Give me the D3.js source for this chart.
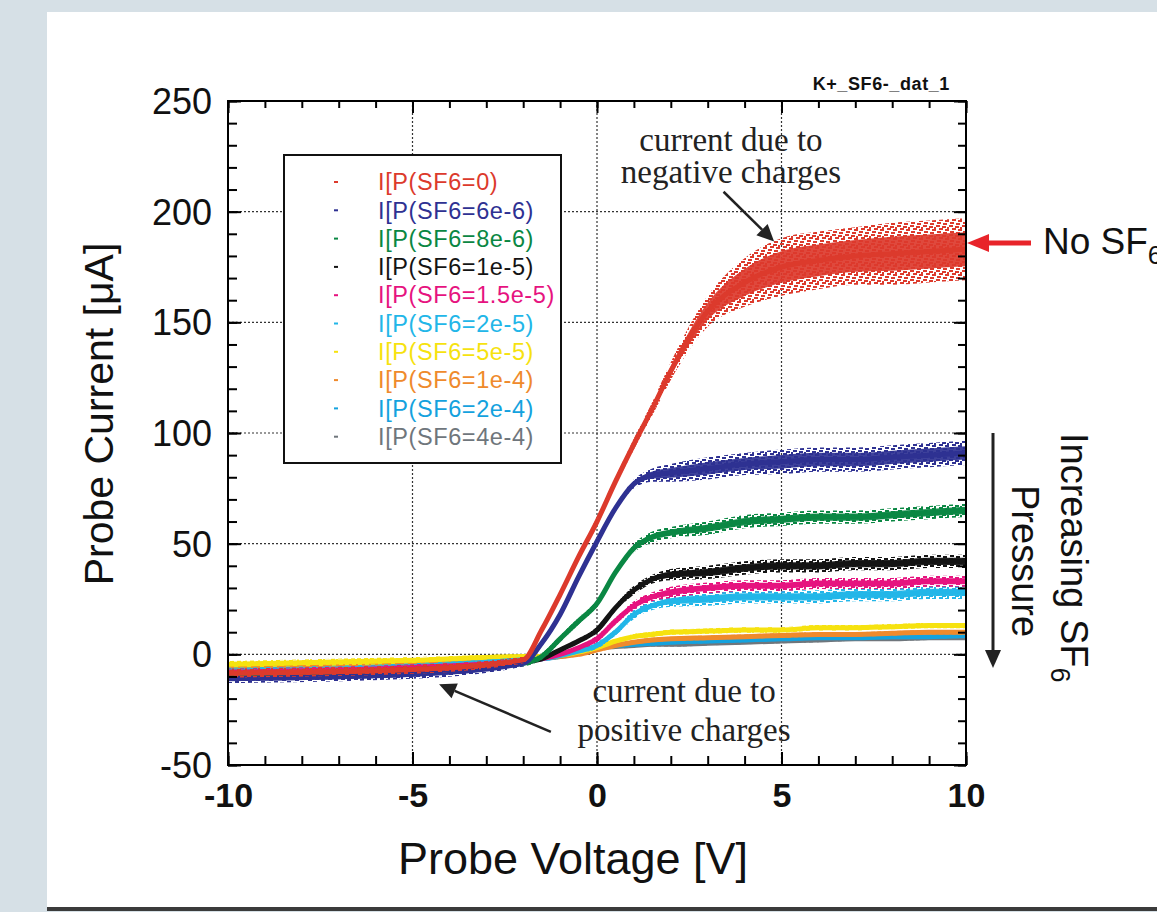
<!DOCTYPE html>
<html>
<head>
<meta charset="utf-8">
<script src="https://cdn.jsdelivr.net/npm/d3@7"></script>
<style>
  html, body { margin: 0; padding: 0; background: #d6e0e6; }
  svg { display: block; }
</style>
</head>
<body>
<svg id="chart" width="1157" height="912"></svg>
<script>
// ---------------- DATA ----------------
const voltage = [-10, -5, -2, -1.5, -1, -0.5, 0, 0.5, 1, 1.5, 2, 3, 4, 5, 6, 7, 8, 9, 10];

const seriesNames = [
  "I[P(SF6=0)", "I[P(SF6=6e-6)", "I[P(SF6=8e-6)", "I[P(SF6=1e-5)", "I[P(SF6=1.5e-5)",
  "I[P(SF6=2e-5)", "I[P(SF6=5e-5)", "I[P(SF6=1e-4)", "I[P(SF6=2e-4)", "I[P(SF6=4e-4)"
];

const currentSF6_0      = [-8.5, -6.8, -2.5, 11, 27, 44, 60, 78, 95, 111, 128, 155, 168, 175, 178, 180, 181, 182, 183];
const currentSF6_6e6    = [-11, -9, -4, 5, 18, 35, 51, 66, 77, 81, 82, 84, 86, 87, 88, 88, 89, 90, 91];
const currentSF6_8e6    = [-10, -8, -4, -1, 7, 15, 23, 37, 48, 53, 55, 57, 60, 61, 62, 62, 63, 64, 65];
const currentSF6_1e5    = [-9, -7, -3.5, -2, 2, 6, 11, 21, 29, 34, 36, 37, 39, 40, 40, 41, 41, 42, 42];
const currentSF6_1_5e5  = [-8, -6, -3, -2, 0, 3, 7, 15, 22, 26, 28, 30, 31, 31, 32, 32, 32, 33, 33];
const currentSF6_2e5    = [-7.5, -5.5, -2.5, -2, -0.5, 1.5, 4, 10, 18, 22, 24, 25, 26, 26, 26, 27, 27, 28, 28];
const currentSF6_5e5    = [-4.5, -2.7, -1, -1, -0.5, 1, 3, 6, 8, 9, 10, 10.5, 11, 11, 12, 12, 12.5, 13, 13];
const currentSF6_1e4    = [-5.5, -4, -1.5, -1.5, -1, 0, 2, 4, 5.5, 6.5, 7, 7.5, 8, 8.5, 9, 9, 9.5, 10, 10];
const currentSF6_2e4    = [-7, -5, -2.5, -2, -1, 0.5, 2.5, 4, 4.5, 5, 5.5, 6, 6.5, 7, 7.5, 7.5, 8, 8, 8.5];
const currentSF6_4e4    = [-6.5, -4, -2, -1.5, -0.5, 1.5, 3, 3.5, 4, 4.5, 4.5, 5, 5.5, 6, 6.5, 7, 7, 7.5, 7.5];

// scatter (noise) half-width of each measured band, in µA
const spreadSF6_0      = [2, 2, 1.5, 1.5, 1.5, 1.5, 2, 2, 2.5, 3, 4, 7, 11, 13, 13, 13, 14, 14, 14];
const spreadSF6_6e6    = [2, 2, 1.5, 1.5, 1.5, 1.5, 1.5, 1.5, 2, 3, 4, 5, 5, 5.5, 5.5, 5.5, 5.5, 5.5, 5.5];
const spreadSF6_8e6    = [2, 2, 1.5, 1.5, 1.5, 1.5, 1.5, 1.5, 2, 2.5, 2.5, 3, 3, 3, 3, 3, 3, 3, 3];
const spreadSF6_1e5    = [1.5, 1.5, 1, 1, 1, 1, 1.5, 1.5, 2, 2, 2.5, 3, 3, 3, 3, 3, 3, 3, 3];
const spreadSF6_1_5e5  = [1.5, 1.5, 1, 1, 1, 1, 1.5, 1.5, 2, 2, 2.5, 2.5, 2.5, 2.5, 2.5, 2.5, 2.5, 2.5, 2.5];
const spreadSF6_2e5    = [1.5, 1.5, 1, 1, 1, 1, 1.5, 1.5, 2, 2, 2.5, 3, 3, 3, 3, 3, 3, 3, 3];
const spreadSF6_5e5    = [1.5, 1.5, 1, 1, 1, 1, 1, 1, 1.2, 1.2, 1.2, 1.2, 1.2, 1.2, 1.2, 1.2, 1.2, 1.2, 1.2];
const spreadSF6_1e4    = [1.2, 1.2, 1, 1, 1, 1, 1, 1, 1, 1, 1, 1, 1, 1, 1, 1, 1, 1, 1];
const spreadSF6_2e4    = [1.2, 1.2, 1, 1, 1, 1, 1, 1, 1, 1, 1, 1, 1, 1, 1, 1, 1, 1, 1];
const spreadSF6_4e4    = [1.2, 1.2, 1, 1, 1, 1, 1, 1, 1, 1, 1, 1, 1, 1, 1, 1, 1, 1, 1];

const xTickValues = [-10, -5, 0, 5, 10];
const xTickLabels = ["-10", "-5", "0", "5", "10"];
const yTickValues = [-50, 0, 50, 100, 150, 200, 250];
const yTickLabels = ["-50", "0", "50", "100", "150", "200", "250"];

const seriesColors = ["#dc3a2c", "#2e3192", "#0a8743", "#141414", "#e6137f",
                      "#22b6e8", "#f6e20f", "#ef8a2c", "#14a2de", "#6f767c"];

const allCurrents = [currentSF6_0, currentSF6_6e6, currentSF6_8e6, currentSF6_1e5, currentSF6_1_5e5,
                     currentSF6_2e5, currentSF6_5e5, currentSF6_1e4, currentSF6_2e4, currentSF6_4e4];
const allSpreads  = [spreadSF6_0, spreadSF6_6e6, spreadSF6_8e6, spreadSF6_1e5, spreadSF6_1_5e5,
                     spreadSF6_2e5, spreadSF6_5e5, spreadSF6_1e4, spreadSF6_2e4, spreadSF6_4e4];

const series = seriesNames.map((name, i) => ({
  name, color: seriesColors[i],
  points: voltage.map((v, j) => ({ v, c: allCurrents[i][j], s: allSpreads[i][j] }))
}));

// ---------------- LAYOUT ----------------
const svg = d3.select("#chart");
const W = 1157, H = 912;
const plot = { left: 228, right: 966, top: 101, bottom: 765 };

const x = d3.scaleLinear().domain([-10, 10]).range([plot.left, plot.right]);
const y = d3.scaleLinear().domain([-50, 250]).range([plot.bottom, plot.top]);

// background panel
svg.append("rect").attr("x", 0).attr("y", 0).attr("width", W).attr("height", H).attr("fill", "#d6e0e6");
svg.append("rect").attr("x", 47).attr("y", 12).attr("width", W - 47).attr("height", 896).attr("fill", "#ffffff");
svg.append("rect").attr("x", 47).attr("y", 907).attr("width", W - 47).attr("height", 4).attr("fill", "#3b3b3b");

const defs = svg.append("defs");
// speckle patterns to mimic scattered data points
series.forEach((s, i) => {
  const p = defs.append("pattern").attr("id", "sp" + i).attr("patternUnits", "userSpaceOnUse")
    .attr("width", 13).attr("height", 9);
  [[0, 0], [6, 1], [3, 3], [9, 4], [1, 6], [7, 7], [11, 2]].forEach(([px, py]) => {
    p.append("rect").attr("x", px).attr("y", py).attr("width", 4).attr("height", 2).attr("fill", s.color);
  });
});

// grid lines
const grid = svg.append("g");
[-5, 0, 5].forEach(v => grid.append("line")
  .attr("x1", x(v)).attr("x2", x(v)).attr("y1", plot.top).attr("y2", plot.bottom)
  .attr("stroke", "#333").attr("stroke-width", 1.2).attr("stroke-dasharray", "2,2"));
[0, 50, 100, 150, 200].forEach(v => grid.append("line")
  .attr("x1", plot.left).attr("x2", plot.right).attr("y1", y(v)).attr("y2", y(v))
  .attr("stroke", "#333").attr("stroke-width", 1.2).attr("stroke-dasharray", "2,2"));

// data
const clipId = "clipPlot";
defs.append("clipPath").attr("id", clipId).append("rect")
  .attr("x", plot.left).attr("y", plot.top).attr("width", plot.right - plot.left).attr("height", plot.bottom - plot.top);
const dataG = svg.append("g").attr("clip-path", `url(#${clipId})`);

const curve = d3.curveMonotoneX;
const areaOuter = d3.area().x(d => x(d.v)).y0(d => y(d.c - d.s)).y1(d => y(d.c + d.s)).curve(curve);
const areaInner = d3.area().x(d => x(d.v)).y0(d => y(d.c - d.s * 0.55)).y1(d => y(d.c + d.s * 0.55)).curve(curve);
const line = d3.line().x(d => x(d.v)).y(d => y(d.c)).curve(curve);

const drawOrder = series.map((s, i) => i).reverse();
drawOrder.forEach(i => {
  const s = series[i];
  dataG.append("path").datum(s.points).attr("d", areaOuter).attr("fill", `url(#sp${i})`);
  dataG.append("path").datum(s.points).attr("d", areaInner).attr("fill", s.color).attr("fill-opacity", 0.92);
  dataG.append("path").datum(s.points).attr("d", line).attr("fill", "none")
    .attr("stroke", s.color).attr("stroke-width", 5).attr("stroke-linejoin", "round");
});

// axes with inward ticks
const axG = svg.append("g");
function styleAxis(g) {
  g.select(".domain").remove();
  g.selectAll(".tick line").attr("stroke", "#000").attr("stroke-width", 2);
}
const minorX = d3.range(-10, 10.01, 1);
const majorX = xTickValues;
const minorY = d3.range(-50, 250.01, 10);
const majorY = yTickValues;

axG.append("g").attr("transform", `translate(0,${plot.bottom})`)
  .call(d3.axisBottom(x).tickValues(minorX).tickSize(-9).tickFormat("")).call(styleAxis);
axG.append("g").attr("transform", `translate(0,${plot.bottom})`)
  .call(d3.axisBottom(x).tickValues(majorX).tickSize(-13).tickPadding(30)
    .tickFormat((d, i) => xTickLabels[i])).call(styleAxis)
  .call(g => g.selectAll(".tick text").attr("font-family", "Liberation Sans, Arial, sans-serif")
    .attr("font-size", 34).attr("font-weight", "bold").attr("fill", "#111").attr("y", 0).attr("dy", 0)
    .attr("transform", "translate(0,42)"));

axG.append("g").attr("transform", `translate(0,${plot.top})`)
  .call(d3.axisTop(x).tickValues(minorX).tickSize(-7).tickFormat("")).call(styleAxis);
axG.append("g").attr("transform", `translate(0,${plot.top})`)
  .call(d3.axisTop(x).tickValues(majorX).tickSize(-12).tickFormat("")).call(styleAxis);

axG.append("g").attr("transform", `translate(${plot.left},0)`)
  .call(d3.axisLeft(y).tickValues(minorY).tickSize(-9).tickFormat("")).call(styleAxis);
axG.append("g").attr("transform", `translate(${plot.left},0)`)
  .call(d3.axisLeft(y).tickValues(majorY).tickSize(-13).tickPadding(30)
    .tickFormat((d, i) => yTickLabels[i])).call(styleAxis)
  .call(g => g.selectAll(".tick text").attr("font-family", "Liberation Sans, Arial, sans-serif")
    .attr("font-size", 36).attr("fill", "#111").attr("x", -16).attr("dy", "0.35em"));

axG.append("g").attr("transform", `translate(${plot.right},0)`)
  .call(d3.axisRight(y).tickValues(minorY).tickSize(-8).tickFormat("")).call(styleAxis);
axG.append("g").attr("transform", `translate(${plot.right},0)`)
  .call(d3.axisRight(y).tickValues(majorY).tickSize(-12).tickFormat("")).call(styleAxis);

// frame
svg.append("rect").attr("x", plot.left).attr("y", plot.top)
  .attr("width", plot.right - plot.left).attr("height", plot.bottom - plot.top)
  .attr("fill", "none").attr("stroke", "#000").attr("stroke-width", 2);

// axis titles
svg.append("text").attr("x", 573).attr("y", 874)
  .attr("text-anchor", "middle").attr("font-family", "Liberation Sans, Arial, sans-serif")
  .attr("font-size", 45).attr("fill", "#111").text("Probe Voltage [V]");
svg.append("text").attr("transform", `translate(113,414) rotate(-90)`)
  .attr("text-anchor", "middle").attr("font-family", "Liberation Sans, Arial, sans-serif")
  .attr("font-size", 41).attr("fill", "#111").text("Probe Current [μA]");

// small title top right
svg.append("text").attr("x", 950).attr("y", 90).attr("text-anchor", "end")
  .attr("font-family", "Liberation Sans, Arial, sans-serif").attr("font-weight", "bold")
  .attr("font-size", 18).attr("letter-spacing", 0.6).attr("fill", "#111").text("K+_SF6-_dat_1");

// legend
const leg = svg.append("g");
leg.append("rect").attr("x", 284).attr("y", 155).attr("width", 277).attr("height", 308)
  .attr("fill", "#fff").attr("stroke", "#111").attr("stroke-width", 2);
series.forEach((s, i) => {
  const cy = 182 + i * 28.3;
  leg.append("rect").attr("x", 334).attr("y", cy - 1).attr("width", 4).attr("height", 2).attr("fill", s.color);
  leg.append("text").attr("x", 378).attr("y", cy).attr("dy", "0.35em")
    .attr("font-family", "Liberation Sans, Arial, sans-serif").attr("font-size", 23.5)
    .attr("letter-spacing", 0.6).attr("fill", s.color).text(s.name);
});

// annotations inside plot (positioned in data coordinates)
const serif = "Liberation Serif, Times New Roman, serif";
function arrowHead(g, x1, y1, x2, y2, len, halfW, color) {
  const a = Math.atan2(y2 - y1, x2 - x1);
  const bx = x2 - len * Math.cos(a), by = y2 - len * Math.sin(a);
  const px = -Math.sin(a) * halfW, py = Math.cos(a) * halfW;
  g.append("path").attr("d", `M${x2},${y2}L${bx + px},${by + py}L${bx - px},${by - py}Z`).attr("fill", color);
  return [bx, by];
}
function arrow(x1, y1, x2, y2, color, width, len, halfW) {
  const g = svg.append("g");
  const [bx, by] = arrowHead(g, x1, y1, x2, y2, len, halfW, color);
  g.append("line").attr("x1", x1).attr("y1", y1).attr("x2", bx).attr("y2", by)
    .attr("stroke", color).attr("stroke-width", width);
}

svg.append("text").attr("x", x(3.63)).attr("y", y(227.5)).attr("text-anchor", "middle")
  .attr("font-family", serif).attr("font-size", 33).attr("fill", "#222").text("current due to");
svg.append("text").attr("x", x(3.63)).attr("y", y(213)).attr("text-anchor", "middle")
  .attr("font-family", serif).attr("font-size", 33).attr("fill", "#222").text("negative charges");
arrow(x(3.43), y(209), x(4.8), y(186.5), "#222", 2.5, 17, 8);

svg.append("text").attr("x", x(2.36)).attr("y", y(-21.7)).attr("text-anchor", "middle")
  .attr("font-family", serif).attr("font-size", 33).attr("fill", "#222").text("current due to");
svg.append("text").attr("x", x(2.36)).attr("y", y(-39.3)).attr("text-anchor", "middle")
  .attr("font-family", serif).attr("font-size", 33).attr("fill", "#222").text("positive charges");
arrow(x(-1.25), y(-35), x(-4.28), y(-13.5), "#222", 2.5, 17, 8);

// right side annotations
arrow(1031, 243, x(10) + 1, 243, "#e8242a", 5, 22, 9);
const noSF = svg.append("text").attr("x", 1043).attr("y", 254)
  .attr("font-family", "Liberation Sans, Arial, sans-serif").attr("font-size", 37).attr("fill", "#111");
noSF.append("tspan").text("No SF");
noSF.append("tspan").attr("dy", 10).attr("font-size", 26).text("6");

arrow(993, 433, 993, 668, "#222", 3, 18, 8);
const inc = svg.append("text").attr("transform", "translate(1061,433) rotate(90)")
  .attr("font-family", "Liberation Sans, Arial, sans-serif").attr("font-size", 38).attr("fill", "#111");
inc.append("tspan").text("Increasing SF");
inc.append("tspan").attr("dy", 10).attr("font-size", 27).text("6");
svg.append("text").attr("transform", "translate(1012,485) rotate(90)")
  .attr("font-family", "Liberation Sans, Arial, sans-serif").attr("font-size", 38).attr("fill", "#111")
  .text("Pressure");
</script>
</body>
</html>
